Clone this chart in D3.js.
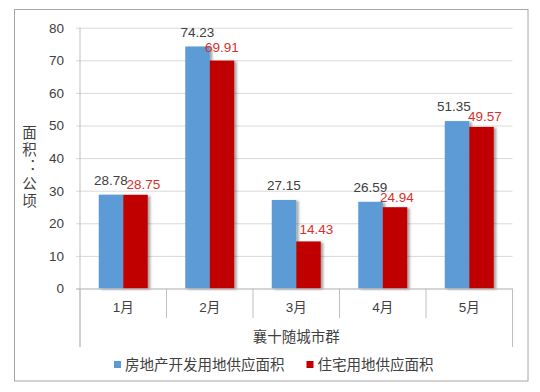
<!DOCTYPE html>
<html><head><meta charset="utf-8">
<script src="https://cdn.jsdelivr.net/npm/d3@7/dist/d3.min.js"></script>
<style>
html,body{margin:0;padding:0;background:#fff;}
text{font-family:"Liberation Sans","Noto Sans CJK SC",sans-serif;}
.cjk{font-family:"Noto Sans CJK SC","Liberation Sans",sans-serif;}
</style></head>
<body>
<svg id="chart" width="540" height="392"></svg>
<script>
const categories = ["1月","2月","3月","4月","5月"];
const seriesNames = ["房地产开发用地供应面积","住宅用地供应面积"];
const devSupply = [28.78, 74.23, 27.15, 26.59, 51.35];
const resSupply = [28.75, 69.91, 14.43, 24.94, 49.57];
const yTicks = [0,10,20,30,40,50,60,70,80];
const groupLabel = "襄十随城市群";
const yTitle = "面积：公顷";

// label placement tweaks (styling, not data)
const labelDx = [[0,0,0,0,-3],[8,0,8,2,3.5]];
const labelDy = [[10,10,10,10,10.5],[5.5,9,7.5,5.5,6]];

const colors = ["#5B9BD5","#C00000"];
const labelColors = ["#404040","#D9302C"];

const svg = d3.select("#chart");
const defs = svg.append("defs");
const f = defs.append("filter").attr("id","sh").attr("x","-20%").attr("y","-20%").attr("width","160%").attr("height","140%");
f.append("feDropShadow").attr("dx",2.5).attr("dy",1).attr("stdDeviation",1.3).attr("flood-color","#000").attr("flood-opacity",0.35);

// outer border
svg.append("rect").attr("x",14.5).attr("y",9.5).attr("width",513.5).attr("height",371.5)
  .attr("fill","#fff").attr("stroke","#A6A6A6").attr("stroke-width",1);

const pLeft = 80, pRight = 512.5, pTop = 27.7, pBase = 288.5;
const x = d3.scaleBand().domain(categories).range([pLeft,pRight]).padding(0);
const xs = d3.scaleBand().domain([0,1]).range([18.75, x.bandwidth()-18.75]).padding(0);
const y = d3.scaleLinear().domain([0,80]).range([pBase, pTop]);

// y gridlines + tick labels
const yAxis = svg.append("g").attr("transform","translate(76,0)")
  .call(d3.axisLeft(y).tickValues(yTicks).tickSize(-(pRight-76)).tickPadding(12).tickFormat(d3.format("d")));
yAxis.select(".domain").remove();
yAxis.selectAll(".tick line").attr("stroke","#D9D9D9").attr("stroke-width",1);
yAxis.selectAll(".tick text").attr("fill","#404040").attr("font-size",13.5)
  .style("font-family","Liberation Sans, sans-serif");

// bars
const seriesData = [devSupply, resSupply];
seriesData.forEach((vals, s) => {
  svg.append("g").attr("filter","url(#sh)").selectAll("rect").data(vals).join("rect")
    .attr("x",(d,i)=>x(categories[i])+xs(s))
    .attr("y",d=>y(d))
    .attr("width",xs.bandwidth())
    .attr("height",d=>y(0)-y(d))
    .attr("fill",colors[s]);
});
seriesData.forEach((vals, s) => {
  svg.append("g").selectAll("text").data(vals).join("text")
    .attr("x",(d,i)=>x(categories[i])+xs(s)+xs.bandwidth()/2+labelDx[s][i])
    .attr("y",(d,i)=>y(d)-labelDy[s][i])
    .attr("text-anchor","middle").attr("font-size",13.5).attr("fill",labelColors[s])
    .text(d=>d3.format(".2f")(d));
});

// axes lines
const axisColor = "#BFBFBF";
svg.append("line").attr("x1",pLeft).attr("x2",pLeft).attr("y1",pTop).attr("y2",347).attr("stroke",axisColor);
svg.append("line").attr("x1",76).attr("x2",pRight).attr("y1",pBase+0.5).attr("y2",pBase+0.5).attr("stroke",axisColor);
const bounds = categories.map(c=>x(c)).concat([pRight]);
svg.append("g").selectAll("line").data(bounds).join("line")
  .attr("x1",d=>d).attr("x2",d=>d).attr("y1",pBase).attr("y2",(d,i)=> (i===0||i===bounds.length-1)?347:318)
  .attr("stroke",axisColor);

// category labels
const xAxis = svg.append("g").attr("transform",`translate(0,${pBase})`)
  .call(d3.axisBottom(x).tickSize(0).tickPadding(14));
xAxis.select(".domain").remove();
xAxis.selectAll(".tick text").attr("font-size",13.5).attr("fill","#404040")
  .style("font-family","Liberation Sans, Noto Sans CJK SC, sans-serif");

svg.append("text").attr("class","cjk").attr("x",(pLeft+pRight)/2).attr("y",342)
  .attr("text-anchor","middle").attr("font-size",14.5).attr("fill","#404040").text(groupLabel);

// y title, vertical
svg.append("text").attr("class","cjk").attr("x",29.5).attr("y",125)
  .attr("font-size",14.5).attr("fill","#404040")
  .style("writing-mode","vertical-rl").style("text-orientation","upright")
  .attr("letter-spacing",2.5)
  .text(yTitle);

// legend
const legX = [114, 306.5];
seriesNames.forEach((n,s)=>{
  svg.append("rect").attr("x",legX[s]).attr("y",361).attr("width",7).attr("height",7).attr("fill",colors[s]);
  svg.append("text").attr("class","cjk").attr("x",legX[s]+11).attr("y",370).attr("font-size",14.5)
    .attr("fill","#404040").text(n);
});
</script>
</body></html>
